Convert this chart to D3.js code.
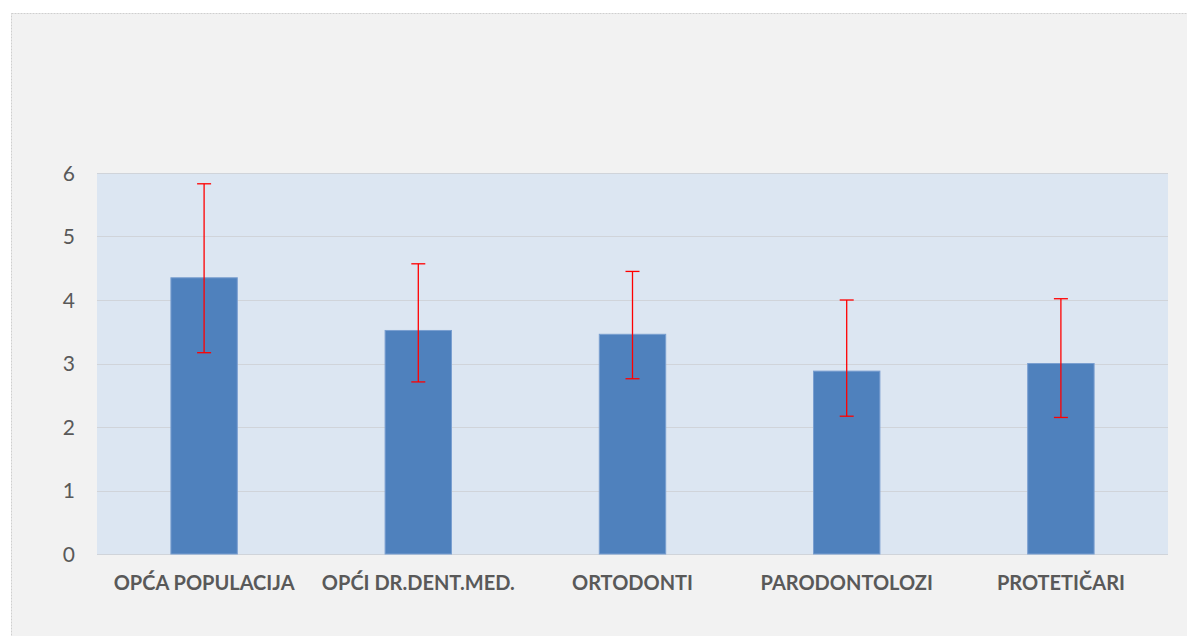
<!DOCTYPE html>
<html>
<head>
<meta charset="utf-8">
<script src="https://cdn.jsdelivr.net/npm/d3@7"></script>
<style>
  body { margin: 0; background: #ffffff; }
  text { font-family: Lato, "Open Sans", sans-serif; }
</style>
</head>
<body>
<svg id="chart"></svg>
<script>
var categories = ["OPĆA POPULACIJA", "OPĆI DR.DENT.MED.", "ORTODONTI", "PARODONTOLOZI", "PROTETIČARI"];
var means = [4.35, 3.52, 3.46, 2.88, 3.0];
var errUpper = [5.83, 4.57, 4.45, 4.0, 4.02];
var errLower = [3.17, 2.71, 2.76, 2.17, 2.15];
var yTicks = [0, 1, 2, 3, 4, 5, 6];

var W = 1187, H = 636;
var margin = { top: 173, right: 19, bottom: 82, left: 97 },
    width = W - margin.left - margin.right,
    height = H - margin.top - margin.bottom;

var data = categories.map(function (c, i) {
    return { cat: c, mean: means[i], hi: errUpper[i], lo: errLower[i] };
});

var svg = d3.select("#chart")
    .attr("width", W)
    .attr("height", H);

// outer chart panel
svg.append("rect")
    .attr("x", 11.5)
    .attr("y", 13.5)
    .attr("width", W)
    .attr("height", H)
    .attr("fill", "#f2f2f2")
    .attr("stroke", "#cfcfcf")
    .attr("stroke-dasharray", "2,1");

var g = svg.append("g")
    .attr("transform", "translate(" + margin.left + "," + margin.top + ")");

var x = d3.scaleBand().domain(categories).range([0, width]).paddingInner(0.69).paddingOuter(0.345);
var y = d3.scaleLinear().domain([0, 6]).range([height, 0]);

// plot area
g.append("rect")
    .attr("width", width)
    .attr("height", height)
    .attr("fill", "#dce6f2");

// gridlines
g.selectAll(".grid")
    .data(yTicks)
    .enter()
    .append("line")
    .attr("class", "grid")
    .attr("x1", 0)
    .attr("x2", width)
    .attr("y1", function (d) { return Math.round(y(d)) + 0.5; })
    .attr("y2", function (d) { return Math.round(y(d)) + 0.5; })
    .attr("stroke", "#d0d4da")
    .attr("stroke-width", 1.2);

// y axis labels
var yAxis = d3.axisLeft(y).tickValues(yTicks).tickFormat(d3.format("d")).tickSize(0).tickPadding(22);
var ya = g.append("g").attr("class", "y axis").call(yAxis);
ya.select(".domain").remove();
ya.selectAll("text")
    .attr("fill", "#595959")
    .style("font-size", "21px")
    .attr("dy", "0.34em");

// bars
g.selectAll(".bar")
    .data(data)
    .enter()
    .append("rect")
    .attr("class", "bar")
    .attr("x", function (d) { return x(d.cat); })
    .attr("y", function (d) { return y(d.mean); })
    .attr("width", x.bandwidth())
    .attr("height", function (d) { return height - y(d.mean); })
    .attr("fill", "#4f81bd")
    .attr("stroke", "#7a9fd0")
    .attr("stroke-width", 1);

// error bars
var eb = g.selectAll(".err")
    .data(data)
    .enter()
    .append("g")
    .attr("class", "err")
    .attr("stroke", "#ff0000")
    .attr("stroke-width", 1.3);

eb.append("line")
    .attr("x1", function (d) { return x(d.cat) + x.bandwidth() / 2; })
    .attr("x2", function (d) { return x(d.cat) + x.bandwidth() / 2; })
    .attr("y1", function (d) { return y(d.hi); })
    .attr("y2", function (d) { return y(d.lo); });

eb.append("line")
    .attr("x1", function (d) { return x(d.cat) + x.bandwidth() / 2 - 7; })
    .attr("x2", function (d) { return x(d.cat) + x.bandwidth() / 2 + 7; })
    .attr("y1", function (d) { return y(d.hi); })
    .attr("y2", function (d) { return y(d.hi); });

eb.append("line")
    .attr("x1", function (d) { return x(d.cat) + x.bandwidth() / 2 - 7; })
    .attr("x2", function (d) { return x(d.cat) + x.bandwidth() / 2 + 7; })
    .attr("y1", function (d) { return y(d.lo); })
    .attr("y2", function (d) { return y(d.lo); });

// category labels
var xAxis = d3.axisBottom(x).tickSize(0).tickPadding(22);
var xa = g.append("g")
    .attr("class", "x axis")
    .attr("transform", "translate(0," + height + ")")
    .call(xAxis);
xa.select(".domain").remove();
xa.selectAll("text")
    .attr("fill", "#595959")
    .style("font-size", "20px")
    .style("font-weight", "bold");
</script>
</body>
</html>
